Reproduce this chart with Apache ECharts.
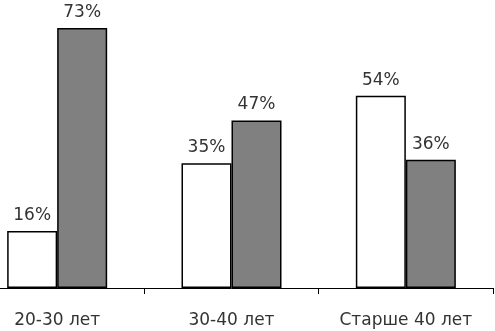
<!DOCTYPE html>
<html>
<head>
<meta charset="utf-8">
<script src="https://cdn.jsdelivr.net/npm/echarts@6/dist/echarts.min.js"></script>
<style>
	html, body { margin: 0; padding: 0; background: #fff; overflow: hidden; }
	#chart { width: 525px; height: 331px; margin-left: -30px; }
</style>
</head>
<body>
<div id="chart"></div>
<script>
const categories = ["20-30 лет", "30-40 лет", "Старше 40 лет"]
const whiteValues = [16, 35, 54]
const greyValues = [73, 47, 36]

const chart = echarts.init(document.getElementById("chart"))

const label = {
	show: true,
	position: "top",
	distance: 7,
	formatter: "{c}%",
	color: "#333",
	fontFamily: "DejaVu Sans, sans-serif",
	fontSize: 17
}

chart.setOption({
	animation: false,
	grid: { left: 0, right: 2, top: 3, bottom: 43 },
	xAxis: {
		type: "category",
		data: categories,
		axisLine: { lineStyle: { color: "#000", width: 1 } },
		axisTick: { show: true, length: 6, lineStyle: { color: "#000" } },
		axisLabel: {
			color: "#333",
			fontFamily: "DejaVu Sans, sans-serif",
			fontSize: 17,
			margin: 24
		}
	},
	yAxis: {
		type: "value",
		min: 0,
		max: 80,
		show: false
	},
	series: [
		{
			type: "bar",
			data: whiteValues,
			barWidth: 50,
			barGap: "0%",
			itemStyle: { color: "#fff", borderColor: "#000", borderWidth: 1.5 },
			label: label
		},
		{
			type: "bar",
			data: greyValues,
			barWidth: 50,
			itemStyle: { color: "#808080", borderColor: "#000", borderWidth: 1.5 },
			label: label
		}
	]
})
</script>
</body>
</html>
